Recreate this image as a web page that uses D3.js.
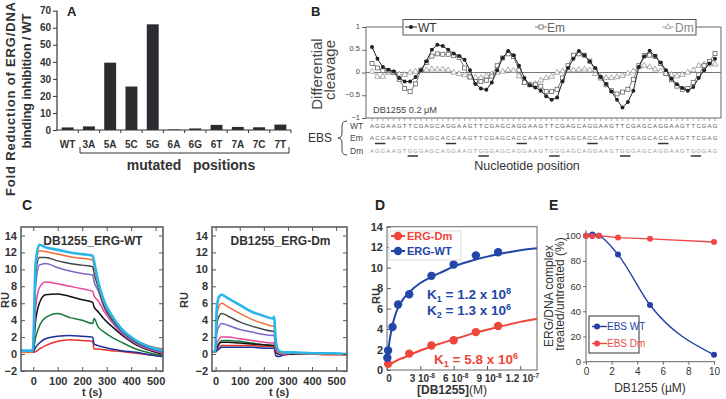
<!DOCTYPE html>
<html><head><meta charset="utf-8">
<script src="https://cdn.jsdelivr.net/npm/d3@7"></script>
<style>
body{margin:0;background:#fff;}
svg{display:block;font-family:"Liberation Sans",Arial,sans-serif;}
</style></head><body>
<svg id="c" width="726" height="399"></svg>
<script>
// ---------------- DATA ----------------
// Panel A
const mutCategories = ["WT","3A","5A","5C","5G","6A","6G","6T","7A","7C","7T"];
const foldReduction = [1.5, 2.1, 39.5, 25.5, 62, 0.3, 0.9, 3.0, 1.8, 1.6, 3.2];
const aTicks = [0,10,20,30,40,50,60,70];

// Panel B
const seqWT = "AGGAAGTTCGAGCAGGAAGTTCGAGCAGGAAGTTCGAGCAGGAAGTTCGAGCAGGAAGTTCGAG";
const seqEm = "ACCAAGTTCGAGCACCAAGTTCGAGCACCAAGTTCGAGCACCAAGTTCGAGCACCAAGTTCGAG";
const seqDm = "AGGAAGTGGGAGCAGGAAGTGGGAGCAGGAAGTGGGAGCAGGAAGTGGGAGCAGGAAGTGGGAG";
const emMutPos = [1,2,14,15,27,28,40,41,53,54];
const dmMutPos = [7,8,20,21,33,34,46,47,59,60];
const cleavageWT = [0.56,0.3,0.12,0.06,0.02,-0.12,-0.2,-0.2,-0.1,0.05,0.25,0.5,0.61,0.58,0.5,0.42,0.36,0.28,0.05,-0.25,-0.35,-0.38,-0.22,0.05,0.32,0.47,0.38,0.15,-0.12,-0.28,-0.33,-0.4,-0.52,-0.6,-0.55,-0.2,0.1,0.3,0.47,0.38,0.24,0.1,-0.1,-0.25,-0.42,-0.6,-0.77,-0.65,-0.4,0.12,0.35,0.48,0.36,0.22,0.05,-0.14,-0.26,-0.34,-0.4,-0.32,-0.12,0.05,0.2,0.3];
const cleavageEm = [0.2,0.1,0.04,0.04,0.0,-0.15,-0.35,-0.42,-0.25,0.05,0.22,0.36,0.41,0.4,0.4,0.37,0.33,0.1,-0.1,-0.2,-0.2,-0.17,-0.08,0.15,0.32,0.41,0.35,0.05,-0.22,-0.27,-0.27,-0.3,-0.42,-0.42,-0.37,-0.12,0.15,0.38,0.41,0.38,0.25,0.05,-0.12,-0.27,-0.4,-0.47,-0.43,-0.37,-0.15,0.15,0.37,0.38,0.35,0.2,-0.02,-0.16,-0.3,-0.37,-0.35,-0.22,-0.05,0.15,0.24,0.42];
const cleavageDm = [0.02,-0.09,-0.09,0.0,0.0,-0.04,-0.05,0.0,0.02,0.04,0.05,0.07,0.07,0.07,0.05,0.0,-0.03,-0.06,-0.1,-0.11,-0.12,-0.08,-0.03,0.0,0.02,0.05,0.04,-0.08,-0.22,-0.27,-0.25,-0.17,-0.12,-0.09,0.0,0.03,0.05,0.05,0.06,0.07,0.05,-0.03,-0.1,-0.12,-0.12,-0.1,-0.07,-0.02,0.03,0.12,0.15,0.12,0.07,0.03,-0.02,-0.05,-0.08,-0.05,0.0,0.05,0.15,0.18,0.18,0.18];
const bTicks = [-1,-0.5,0,0.5,1];

// Panel C (sensorgrams)
const cTimeWT = [-50,-2,10,25,50,100,150,200,243,248,265,290,320,360,420,480,530];
const wtRed     = [0.2,0.2,0.3,0.6,1.0,1.5,1.7,1.6,1.5,0.6,0.6,0.5,0.4,0.3,0.1,-0.1,-0.2];
const wtNavy    = [0.2,0.2,0.8,1.3,1.8,2.1,2.2,2.1,2.0,1.2,1.0,0.8,0.6,0.4,0.2,-0.1,-0.3];
const wtGreen   = [0.2,0.2,2.0,3.3,4.3,4.8,4.3,4.0,3.6,4.2,3.2,2.6,2.0,1.4,0.6,0.1,-0.2];
const wtBlack   = [0.2,0.2,4.0,6.0,7.0,7.1,6.8,6.4,6.1,5.6,5.0,4.1,3.3,2.3,1.1,0.4,0.0];
const wtMagenta = [0.2,0.2,5.5,7.8,8.5,8.3,8.0,7.7,7.4,6.9,6.3,5.0,3.8,2.5,1.2,0.5,0.1];
const wtPurple  = [0.2,0.2,8.0,10.5,10.7,10.2,9.8,9.5,9.3,8.6,7.5,5.5,4.0,2.6,1.3,0.6,0.2];
const wtGray    = [0.2,0.2,9.5,11.4,11.4,11.0,10.7,10.5,10.3,9.6,7.9,5.6,4.2,2.8,1.4,0.7,0.3];
const wtOrange  = [0.2,0.2,10.2,12.2,12.1,11.8,11.5,11.3,11.1,10.4,8.3,6.0,4.5,3.0,1.6,0.9,0.6];
const wtCyan    = [0.4,0.4,10.8,12.9,12.6,12.3,12.0,11.8,11.6,11.0,8.6,6.2,4.6,3.0,1.6,0.8,0.4];

const cTimeDm = [-15,-2,5,15,25,50,100,150,200,238,242,250,262,280,320,400,480,545];
const dmRed     = [0.2,0.2,0.4,0.8,1.0,1.0,1.0,1.0,0.9,0.9,0.9,0.3,0.0,-0.1,0.0,0.0,0.0,0.0];
const dmNavy    = [0.2,0.2,0.4,0.6,0.8,0.8,0.8,0.8,0.7,0.7,0.7,-0.2,-0.3,-0.1,0.0,0.0,0.0,-0.1];
const dmGreen   = [0.2,0.2,0.8,1.3,1.6,1.6,1.5,1.3,1.1,1.0,1.0,0.3,0.0,0.0,0.1,0.0,0.1,0.0];
const dmBlack   = [0.2,0.2,0.7,1.2,1.4,1.4,1.3,1.2,1.1,1.0,1.0,0.3,0.0,0.0,0.0,0.0,0.0,0.0];
const dmMagenta = [0.2,0.2,1.2,1.8,2.0,2.0,1.8,1.6,1.4,1.3,1.3,0.4,0.1,0.0,0.1,0.0,0.0,0.0];
const dmPurple  = [0.2,0.2,2.5,3.3,3.6,3.4,2.9,2.6,2.3,2.2,2.2,0.7,0.2,0.1,0.1,0.0,0.0,0.0];
const dmGray    = [0.2,0.2,3.5,4.5,4.8,4.5,3.8,3.3,2.9,2.7,2.7,0.9,0.2,0.1,0.1,0.0,0.0,0.0];
const dmOrange  = [0.2,0.2,4.5,5.7,6.0,5.6,4.8,4.1,3.6,3.3,3.3,1.1,0.2,0.1,0.1,0.0,-0.1,-0.1];
const dmCyan    = [0.3,0.3,5.5,6.8,7.0,6.6,5.8,5.0,4.5,4.2,4.4,1.5,0.4,0.2,0.2,0.1,0.1,0.0];
const cYTicks = [-2,0,2,4,6,8,10,12,14];
const cXTicks = [0,100,200,300,400,500];

// Panel D (binding isotherms, concentrations in nM)
const dConcWT = [0.3,1.0,5,10,20,40,60,80,100];
const dRuWT   = [1.2,1.9,4.2,6.4,7.4,9.2,10.3,11.2,11.5];
const dConcDm = [1.0,20,40,60,80,100];
const dRuDm   = [0.6,1.6,2.4,2.9,3.7,4.3];
const dFitConc = [0,1,2.5,5,7.5,10,15,20,30,40,50,60,80,100,120,135];
const dFitWT   = [0.5,1.8,3.0,4.4,5.4,6.1,7.0,7.6,8.5,9.1,9.6,10.1,10.8,11.3,11.7,11.9];
const dFitDm   = [0.3,0.4,0.5,0.7,0.85,1.0,1.2,1.45,1.9,2.3,2.65,3.0,3.65,4.2,4.7,5.0];
const dYTicks = [0,2,4,6,8,10,12,14];
const dXTicks = [["0",""],["3 10","-8"],["6 10","-8"],["9 10","-8"],["1.2 10","-7"]];
const dXTickVals = [0,30,60,90,120];

// Panel E
const eConc = [0,0.5,1,2.5,5,10];
const eWT = [100,101,100,85,45,5.5];
const eDm = [100,99.5,100,98.5,97.5,95];
const eYTicks = [0,20,40,60,80,100];
const eXTicks = [0,2,4,6,8,10];

// ---------------- DRAW ----------------
const svg = d3.select("#c");
function txt(g, x, y, s, o = {}) {
  const t = g.append("text").attr("x", x).attr("y", y).text(s)
    .attr("font-size", o.size || 10).attr("fill", o.fill || "#333")
    .attr("text-anchor", o.anchor || "start");
  if (o.bold) t.attr("font-weight", "bold");
  if (o.rot != null) t.attr("transform", `rotate(${o.rot},${x},${y})`);
  if (o.family) t.attr("font-family", o.family);
  if (o.len) t.attr("textLength", o.len).attr("lengthAdjust", "spacing");
  return t;
}
function styleAxis(g, col, fs, bold, fam) {
  g.select(".domain").remove();
  g.selectAll(".tick line").attr("stroke", col);
  g.selectAll(".tick text").attr("fill", "#333").attr("font-size", fs)
    .attr("font-weight", bold ? "bold" : "normal")
    .attr("font-family", fam || '"Liberation Sans",Arial,sans-serif');
}

// ===== Panel A =====
(function () {
  const g = svg.append("g");
  const xA = d3.scaleBand().domain(mutCategories).range([57, 291]).paddingInner(0.44).paddingOuter(0.22);
  const yA = d3.scaleLinear().domain([0, 70]).range([130, 10.7]);
  g.selectAll("rect.bar").data(mutCategories).join("rect")
    .attr("x", d => xA(d)).attr("width", xA.bandwidth())
    .attr("y", (d, i) => yA(foldReduction[i]))
    .attr("height", (d, i) => yA(0) - yA(foldReduction[i]))
    .attr("fill", "#2b2b30");
  const ya = g.append("g").attr("transform", "translate(57,0)")
    .call(d3.axisLeft(yA).tickValues(aTicks).tickSize(4).tickPadding(2));
  styleAxis(ya, "#333", 10, true);
  g.append("line").attr("x1", 57).attr("x2", 57).attr("y1", yA(0)).attr("y2", yA(70)).attr("stroke", "#333").attr("stroke-width", 1.2);
  g.append("line").attr("x1", 57).attr("x2", 291).attr("y1", yA(0)).attr("y2", yA(0)).attr("stroke", "#333").attr("stroke-width", 1.2);
  const step = xA.step();
  mutCategories.forEach((c, i) => {
    const cx = xA(c) + xA.bandwidth() / 2;
    g.append("line").attr("x1", cx + step / 2).attr("x2", cx + step / 2).attr("y1", yA(0)).attr("y2", yA(0) + 3).attr("stroke", "#333");
    txt(g, cx, 148, c, { size: 10, bold: true, anchor: "middle", fill: "#333" });
  });
  g.append("path").attr("d", "M80,147V153H289V147").attr("fill", "none").attr("stroke", "#333");
  txt(g, 191, 170, "mutated\u00A0\u00A0\u00A0positions", { size: 14, bold: true, anchor: "middle", fill: "#333" });
  txt(g, 15, 99, "Fold Reduction of ERG/DNA", { size: 13, bold: true, anchor: "middle", rot: -90, len: 194, fill: "#333" });
  txt(g, 31, 81, "binding inhibition / WT", { size: 13, bold: true, anchor: "middle", rot: -90, len: 135, fill: "#333" });
  txt(g, 67, 16, "A", { size: 13, bold: true, fill: "#222" });
})();

// ===== Panel B =====
(function () {
  const g = svg.append("g");
  const idx = d3.range(seqWT.length);
  const xB = d3.scaleLinear().domain([0, seqWT.length - 1]).range([372, 715]);
  const yB = d3.scaleLinear().domain([-1, 1]).range([118, 27]);
  txt(g, 311, 16, "B", { size: 13, bold: true, fill: "#222" });
  const ya = g.append("g").attr("transform", "translate(366,0)")
    .call(d3.axisLeft(yB).tickValues(bTicks).tickSize(4).tickPadding(2).tickFormat(d3.format("")));
  styleAxis(ya, "#666", 7.5, false);
  ya.selectAll(".tick text").attr("fill", "#444").attr("dy", "0.15em");
  g.append("path").attr("d", `M366,${yB(-1)}V${yB(1)}H403M696,${yB(1)}H721V${yB(-1)}H366`)
    .attr("fill", "none").attr("stroke", "#666");
  idx.forEach(i => g.append("line").attr("x1", xB(i)).attr("x2", xB(i)).attr("y1", yB(-1)).attr("y2", yB(-1) + 3).attr("stroke", "#888").attr("stroke-width", 0.7));
  g.append("line").attr("x1", 366).attr("x2", 721).attr("y1", yB(0)).attr("y2", yB(0)).attr("stroke", "#777");
  txt(g, 373, 113, "DB1255 0.2 \u03BCM", { size: 9.2, fill: "#444" });
  const line = d3.line().x((d, i) => xB(i)).y(d => yB(d));
  g.append("path").attr("d", line(cleavageDm)).attr("fill", "none").attr("stroke", "#aaa");
  const tri = d3.symbol(d3.symbolTriangle).size(14);
  cleavageDm.forEach((v, i) => g.append("path").attr("d", tri()).attr("transform", `translate(${xB(i)},${yB(v)})`).attr("fill", "#fff").attr("stroke", "#999").attr("stroke-width", 0.8));
  g.append("path").attr("d", line(cleavageEm)).attr("fill", "none").attr("stroke", "#777");
  cleavageEm.forEach((v, i) => g.append("rect").attr("x", xB(i) - 2).attr("y", yB(v) - 2).attr("width", 4).attr("height", 4).attr("fill", "#fff").attr("stroke", "#666").attr("stroke-width", 0.8));
  g.append("path").attr("d", line(cleavageWT)).attr("fill", "none").attr("stroke", "#222");
  cleavageWT.forEach((v, i) => g.append("circle").attr("cx", xB(i)).attr("cy", yB(v)).attr("r", 2).attr("fill", "#222"));
  // legend
  g.append("rect").attr("x", 403).attr("y", 19.5).attr("width", 293).attr("height", 15.5).attr("fill", "#fff").attr("stroke", "#555");
  g.append("line").attr("x1", 405).attr("x2", 417).attr("y1", 27).attr("y2", 27).attr("stroke", "#222");
  g.append("circle").attr("cx", 411).attr("cy", 27).attr("r", 2).attr("fill", "#222");
  txt(g, 418, 32, "WT", { size: 12, fill: "#333" });
  g.append("line").attr("x1", 535).attr("x2", 547).attr("y1", 27).attr("y2", 27).attr("stroke", "#777");
  g.append("rect").attr("x", 539).attr("y", 25).attr("width", 4).attr("height", 4).attr("fill", "#fff").attr("stroke", "#666").attr("stroke-width", 0.8);
  txt(g, 547, 32, "Em", { size: 12, fill: "#666" });
  g.append("line").attr("x1", 662).attr("x2", 674).attr("y1", 27).attr("y2", 27).attr("stroke", "#aaa");
  g.append("path").attr("d", tri()).attr("transform", "translate(668,27)").attr("fill", "#fff").attr("stroke", "#999").attr("stroke-width", 0.8);
  txt(g, 675, 32, "Dm", { size: 12, fill: "#888" });
  txt(g, 322, 74, "Differential", { size: 15, anchor: "middle", rot: -90, fill: "#444" });
  txt(g, 335, 70, "cleavage", { size: 15, anchor: "middle", rot: -90, fill: "#444" });
  const rows = [[seqWT, 128, "#555", "WT", []], [seqEm, 140, "#666", "Em", emMutPos], [seqDm, 152.5, "#999", "Dm", dmMutPos]];
  rows.forEach(([s, y, col, lab, mut]) => {
    txt(g, 350, y + 1, lab, { size: 8.5, fill: "#444" });
    s.split("").forEach((ch, i) => txt(g, xB(i), y, ch, { size: 6, anchor: "middle", fill: col }));
    for (let k = 0; k < mut.length; k += 2) {
      g.append("line").attr("x1", xB(mut[k]) - 2.5).attr("x2", xB(mut[k + 1]) + 2.5)
        .attr("y1", y + 3.5).attr("y2", y + 3.5).attr("stroke", "#333").attr("stroke-width", 1.5);
    }
  });
  txt(g, 308, 142, "EBS", { size: 12, fill: "#333" });
  g.append("path").attr("d", "M347,121Q342,121 342,126L342,133Q342,138 338,138Q342,138 342,143L342,150Q342,155 347,155")
    .attr("fill", "none").attr("stroke", "#444");
  txt(g, 527, 170, "Nucleotide position", { size: 12.5, anchor: "middle", fill: "#333" });
})();

// ===== Panel C =====
const cColors = ["#e8312a", "#1b2f9e", "#1a7a3a", "#111111", "#e8449a", "#7b68c8", "#3f4a4a", "#f26b3a", "#2cb5e8"];
function sensor(g, x0, x1, dom, times, series, title, lblX, ruX) {
  const x = d3.scaleLinear().domain(dom).range([x0, x1]);
  const y = d3.scaleLinear().domain([-2, 15]).range([371, 227]);
  g.append("defs").append("clipPath").attr("id", "clip" + x0).append("rect")
    .attr("x", x0).attr("y", 227).attr("width", x1 - x0).attr("height", 144);
  const line = d3.line().x((d, i) => x(times[i])).y(d => y(d)).curve(d3.curveMonotoneX);
  const cg = g.append("g").attr("clip-path", `url(#clip${x0})`);
  series.forEach((s, k) => cg.append("path").attr("d", line(s)).attr("fill", "none")
    .attr("stroke", cColors[k]).attr("stroke-width", k === 8 ? 2.6 : 1.5));
  const al = g.append("g").attr("transform", `translate(${x0},0)`).call(d3.axisLeft(y).tickValues(cYTicks).tickSize(-4).tickPadding(4));
  styleAxis(al, "#555", 11, true);
  const ar = g.append("g").attr("transform", `translate(${x1},0)`).call(d3.axisRight(y).tickValues(cYTicks).tickSize(-4).tickFormat(""));
  styleAxis(ar, "#555", 11, true);
  const ab = g.append("g").attr("transform", "translate(0,371)").call(d3.axisBottom(x).tickValues(cXTicks).tickSize(-4).tickPadding(6));
  styleAxis(ab, "#555", 11, true);
  const at = g.append("g").attr("transform", "translate(0,227)").call(d3.axisTop(x).tickValues(cXTicks).tickSize(-4).tickFormat(""));
  styleAxis(at, "#555", 11, true);
  g.append("rect").attr("x", x0).attr("y", 227).attr("width", x1 - x0).attr("height", 144)
    .attr("fill", "none").attr("stroke", "#555").attr("stroke-width", 1.5);
  txt(g, (x0 + x1) / 2 + 1, 245, title, { size: 12, bold: true, anchor: "middle", fill: "#333" });
  txt(g, lblX, 396, "t (s)", { size: 11, bold: true, anchor: "middle", fill: "#333" });
  txt(g, ruX, 300, "RU", { size: 11, bold: true, anchor: "middle", rot: -90, fill: "#333" });
}
(function () {
  const g = svg.append("g");
  txt(g, 22, 210, "C", { size: 14, bold: true, fill: "#222" });
  sensor(g, 21, 163, [-50, 530], cTimeWT,
    [wtRed, wtNavy, wtGreen, wtBlack, wtMagenta, wtPurple, wtGray, wtOrange, wtCyan], "DB1255_ERG-WT", 92, 9);
  sensor(g, 212, 347, [-15, 545], cTimeDm,
    [dmRed, dmNavy, dmGreen, dmBlack, dmMagenta, dmPurple, dmGray, dmOrange, dmCyan], "DB1255_ERG-Dm", 279, 188);
})();

// ===== Panel D =====
(function () {
  const g = svg.append("g");
  const blue = "#2346a8", red = "#f0453a";
  txt(g, 375, 210, "D", { size: 14, bold: true, fill: "#222" });
  const x = d3.scaleLinear().domain([0, 135]).range([387, 537]);
  const y = d3.scaleLinear().domain([0, 14]).range([370, 226.7]);
  const al = g.append("g").attr("transform", "translate(387,0)").call(d3.axisLeft(y).tickValues(dYTicks).tickSize(-4).tickPadding(4));
  styleAxis(al, "#555", 11, true);
  const ab = g.append("g").attr("transform", "translate(0,370)").call(d3.axisBottom(x).tickValues(dXTickVals).tickSize(-4).tickFormat(""));
  styleAxis(ab, "#555", 11, true);
  dXTickVals.forEach((v, i) => {
    const t = g.append("text").attr("x", x(v) + 2).attr("y", 382).attr("text-anchor", "middle")
      .attr("font-size", 10).attr("font-weight", "bold").attr("fill", "#333").text(dXTicks[i][0]);
    if (dXTicks[i][1]) t.append("tspan").attr("dy", -4).attr("font-size", 6.5).text(dXTicks[i][1]);
  });
  g.append("rect").attr("x", 387).attr("y", 226.7).attr("width", 150).attr("height", 143.3)
    .attr("fill", "none").attr("stroke", "#666").attr("stroke-width", 1);
  const line = d3.line().x((d, i) => x(dFitConc[i])).y(d => y(d)).curve(d3.curveMonotoneX);
  g.append("path").attr("d", line(dFitDm)).attr("fill", "none").attr("stroke", red).attr("stroke-width", 2);
  g.append("path").attr("d", line(dFitWT)).attr("fill", "none").attr("stroke", blue).attr("stroke-width", 2);
  dConcDm.forEach((c, i) => g.append("circle").attr("cx", x(c)).attr("cy", y(dRuDm[i])).attr("r", 4.2).attr("fill", red));
  dConcWT.forEach((c, i) => g.append("circle").attr("cx", x(c)).attr("cy", y(dRuWT[i])).attr("r", 4.2).attr("fill", blue));
  g.append("rect").attr("x", 389).attr("y", 231).attr("width", 72).attr("height", 29).attr("fill", "#fff").attr("stroke", "#ddd");
  [[red, "ERG-Dm", 240], [blue, "ERG-WT", 255]].forEach(([c, s, yy]) => {
    g.append("line").attr("x1", 391).attr("x2", 405).attr("y1", yy - 4).attr("y2", yy - 4).attr("stroke", c).attr("stroke-width", 2);
    g.append("circle").attr("cx", 398).attr("cy", yy - 4).attr("r", 4.2).attr("fill", c);
    txt(g, 407, yy, s, { size: 11, bold: true, fill: c });
  });
  function kText(xx, yy, sub, val, exp, col) {
    const t = g.append("text").attr("x", xx).attr("y", yy).attr("font-size", 13.5).attr("font-weight", "bold").attr("fill", col).text("K");
    t.append("tspan").attr("dy", 3).attr("font-size", 9).text(sub);
    t.append("tspan").attr("dy", -3).text(" = " + val + " x 10");
    t.append("tspan").attr("dy", -5).attr("font-size", 9).text(exp);
  }
  kText(427, 299, "1", "1.2", "8", blue);
  kText(427, 315, "2", "1.3", "6", blue);
  kText(434, 364, "1", "5.8", "6", red);
  const xl = g.append("text").attr("x", 452).attr("y", 394).attr("text-anchor", "middle").attr("font-size", 12).attr("fill", "#333");
  xl.append("tspan").attr("font-weight", "bold").text("[DB1255]");
  xl.append("tspan").text("(M)");
  txt(g, 380, 296, "RU", { size: 11, bold: true, anchor: "middle", rot: -90, fill: "#333" });
})();

// ===== Panel E =====
(function () {
  const g = svg.append("g");
  const blue = "#2440a8", red = "#f04848";
  const narrow = '"Liberation Sans Narrow","Arial Narrow","Liberation Sans",sans-serif';
  txt(g, 549, 210, "E", { size: 14, bold: true, fill: "#222" });
  const x = d3.scaleLinear().domain([0, 10]).range([586, 714]);
  const y = d3.scaleLinear().domain([0, 100]).range([361.7, 235.7]);
  const al = g.append("g").attr("transform", "translate(586,0)").call(d3.axisLeft(y).tickValues(eYTicks).tickSize(3).tickPadding(2));
  styleAxis(al, "#666", 9.5, false, narrow);
  const ab = g.append("g").attr("transform", "translate(0,361.7)").call(d3.axisBottom(x).tickValues(eXTicks).tickSize(3).tickPadding(3));
  styleAxis(ab, "#666", 10, false, narrow);
  g.append("path").attr("d", "M586,230V361.7H715").attr("fill", "none").attr("stroke", "#666");
  const lineB = d3.line().x((d, i) => x(eConc[i])).y(d => y(d)).curve(d3.curveMonotoneX);
  const lineR = d3.line().x((d, i) => x(eConc[i])).y(d => y(d));
  g.append("path").attr("d", lineR(eDm)).attr("fill", "none").attr("stroke", red).attr("stroke-width", 1.4);
  g.append("path").attr("d", lineB(eWT)).attr("fill", "none").attr("stroke", blue).attr("stroke-width", 1.4);
  eConc.forEach((c, i) => g.append("circle").attr("cx", x(c)).attr("cy", y(eWT[i])).attr("r", 3).attr("fill", blue));
  eConc.forEach((c, i) => g.append("circle").attr("cx", x(c)).attr("cy", y(eDm[i])).attr("r", 3).attr("fill", red));
  g.append("rect").attr("x", 589).attr("y", 316).attr("width", 50).attr("height", 37).attr("fill", "#fff").attr("stroke", "#333");
  [[blue, "EBS WT", 330], [red, "EBS Dm", 347]].forEach(([c, s, yy]) => {
    g.append("line").attr("x1", 592).attr("x2", 607).attr("y1", yy - 3.5).attr("y2", yy - 3.5).attr("stroke", c).attr("stroke-width", 1.4);
    g.append("circle").attr("cx", 597).attr("cy", yy - 3.5).attr("r", 3).attr("fill", c);
    txt(g, 607, yy, s, { size: 10, fill: c, family: narrow });
  });
  txt(g, 650, 392, "DB1255 (\u00B5M)", { size: 12, anchor: "middle", fill: "#333", family: narrow });
  txt(g, 553, 296, "ERG/DNA complex", { size: 12, anchor: "middle", rot: -90, fill: "#333", family: narrow });
  txt(g, 564, 294, "treated/untreated (%)", { size: 12, anchor: "middle", rot: -90, fill: "#333", family: narrow });
})();
</script>
</body></html>
